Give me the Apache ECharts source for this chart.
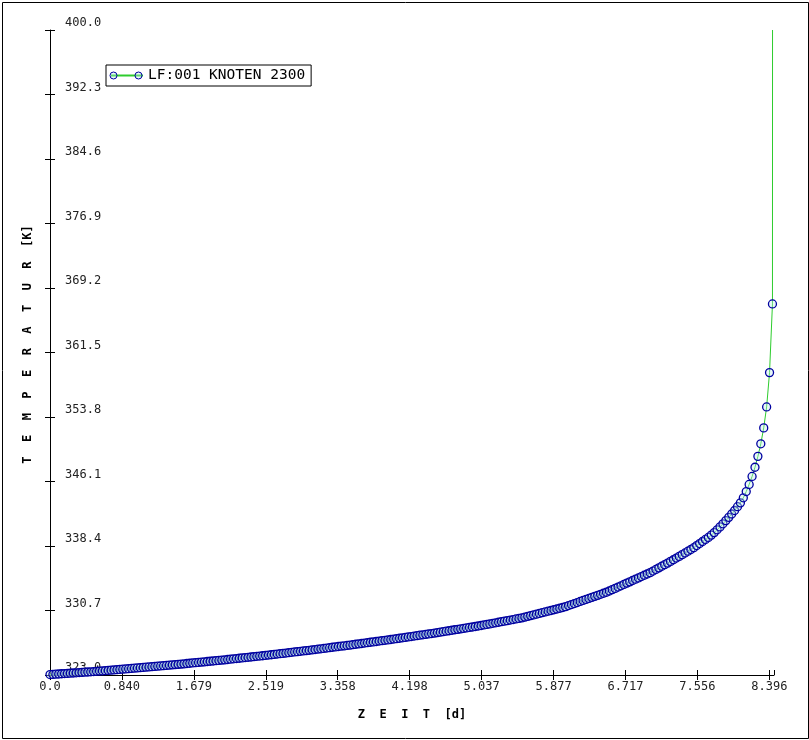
<!DOCTYPE html>
<html>
<head>
<meta charset="utf-8">
<script src="https://cdn.jsdelivr.net/npm/echarts@6/dist/echarts.min.js"></script>
<style>
html,body{margin:0;padding:0;background:#fff;}
#chart{width:809px;height:740px;}
</style>
</head>
<body>
<div id="chart"></div>
<script>
// ---- data ----
const seriesName = 'LF:001 KNOTEN 2300';
const timeDays = [
0, 0.034, 0.068, 0.102, 0.136, 0.170, 0.204, 0.238, 0.272, 0.306,
0.340, 0.374, 0.408, 0.442, 0.476, 0.510, 0.544, 0.578, 0.612, 0.646,
0.680, 0.714, 0.748, 0.782, 0.816, 0.850, 0.884, 0.918, 0.952, 0.986,
1.020, 1.054, 1.088, 1.122, 1.156, 1.190, 1.224, 1.258, 1.292, 1.326,
1.360, 1.394, 1.428, 1.462, 1.496, 1.530, 1.564, 1.598, 1.632, 1.666,
1.700, 1.734, 1.768, 1.802, 1.836, 1.870, 1.904, 1.938, 1.972, 2.006,
2.040, 2.074, 2.108, 2.142, 2.176, 2.210, 2.244, 2.278, 2.312, 2.346,
2.380, 2.414, 2.448, 2.482, 2.516, 2.550, 2.584, 2.618, 2.652, 2.686,
2.720, 2.754, 2.788, 2.822, 2.856, 2.890, 2.924, 2.958, 2.992, 3.026,
3.060, 3.094, 3.128, 3.162, 3.196, 3.230, 3.264, 3.298, 3.332, 3.366,
3.400, 3.434, 3.468, 3.502, 3.536, 3.570, 3.604, 3.638, 3.672, 3.706,
3.740, 3.774, 3.808, 3.842, 3.876, 3.910, 3.944, 3.978, 4.012, 4.046,
4.080, 4.114, 4.148, 4.182, 4.216, 4.250, 4.284, 4.318, 4.352, 4.386,
4.420, 4.454, 4.488, 4.522, 4.556, 4.590, 4.624, 4.658, 4.692, 4.726,
4.760, 4.794, 4.828, 4.862, 4.896, 4.930, 4.964, 4.998, 5.032, 5.066,
5.100, 5.134, 5.168, 5.202, 5.236, 5.270, 5.304, 5.338, 5.372, 5.406,
5.440, 5.474, 5.508, 5.542, 5.576, 5.610, 5.644, 5.678, 5.712, 5.746,
5.780, 5.814, 5.848, 5.882, 5.916, 5.950, 5.984, 6.018, 6.052, 6.086,
6.120, 6.154, 6.188, 6.222, 6.256, 6.290, 6.324, 6.358, 6.392, 6.426,
6.460, 6.494, 6.528, 6.562, 6.596, 6.630, 6.664, 6.698, 6.732, 6.766,
6.800, 6.834, 6.868, 6.902, 6.936, 6.970, 7.004, 7.038, 7.072, 7.106,
7.140, 7.174, 7.208, 7.242, 7.276, 7.310, 7.344, 7.378, 7.412, 7.446,
7.480, 7.514, 7.548, 7.582, 7.616, 7.650, 7.684, 7.718, 7.752, 7.786,
7.820, 7.854, 7.888, 7.922, 7.956, 7.990, 8.024, 8.058, 8.092, 8.126,
8.160, 8.194, 8.228, 8.262, 8.296, 8.330, 8.364, 8.398, 8.432, 8.433
];
const temperatureK = [
323.05, 323.07, 323.10, 323.12, 323.15, 323.17, 323.19, 323.22, 323.24, 323.26,
323.29, 323.31, 323.34, 323.36, 323.38, 323.41, 323.44, 323.47, 323.49, 323.52,
323.55, 323.58, 323.61, 323.64, 323.67, 323.69, 323.72, 323.75, 323.78, 323.81,
323.84, 323.87, 323.90, 323.93, 323.96, 323.99, 324.02, 324.05, 324.08, 324.11,
324.14, 324.17, 324.21, 324.24, 324.27, 324.30, 324.33, 324.37, 324.40, 324.44,
324.47, 324.50, 324.54, 324.57, 324.61, 324.64, 324.67, 324.71, 324.74, 324.78,
324.81, 324.85, 324.89, 324.93, 324.96, 325.00, 325.04, 325.08, 325.11, 325.15,
325.19, 325.23, 325.26, 325.30, 325.34, 325.38, 325.42, 325.46, 325.50, 325.54,
325.58, 325.62, 325.67, 325.71, 325.75, 325.79, 325.83, 325.87, 325.91, 325.95,
326.00, 326.04, 326.09, 326.13, 326.17, 326.22, 326.26, 326.31, 326.35, 326.40,
326.44, 326.48, 326.53, 326.57, 326.62, 326.67, 326.72, 326.76, 326.81, 326.86,
326.91, 326.95, 327.00, 327.05, 327.10, 327.14, 327.19, 327.24, 327.29, 327.34,
327.39, 327.44, 327.49, 327.54, 327.59, 327.65, 327.70, 327.75, 327.80, 327.85,
327.90, 327.95, 328.00, 328.06, 328.11, 328.17, 328.23, 328.28, 328.34, 328.40,
328.45, 328.51, 328.56, 328.62, 328.68, 328.73, 328.79, 328.85, 328.91, 328.98,
329.04, 329.10, 329.17, 329.23, 329.30, 329.36, 329.43, 329.49, 329.56, 329.62,
329.69, 329.75, 329.82, 329.91, 330.00, 330.09, 330.17, 330.26, 330.35, 330.44,
330.53, 330.62, 330.70, 330.79, 330.88, 330.97, 331.06, 331.16, 331.29, 331.41,
331.53, 331.65, 331.78, 331.90, 332.02, 332.14, 332.27, 332.39, 332.51, 332.63,
332.76, 332.88, 333.03, 333.19, 333.34, 333.50, 333.65, 333.81, 333.97, 334.12,
334.28, 334.44, 334.59, 334.75, 334.91, 335.06, 335.22, 335.41, 335.60, 335.79,
335.98, 336.17, 336.36, 336.56, 336.76, 336.96, 337.16, 337.37, 337.57, 337.78,
337.98, 338.20, 338.45, 338.69, 338.94, 339.18, 339.42, 339.70, 340.00, 340.33,
340.68, 341.05, 341.43, 341.82, 342.22, 342.64, 343.09, 343.55, 344.15, 344.90,
345.75, 346.70, 347.80, 349.10, 350.60, 352.50, 355.00, 359.10, 367.30, 400.00
];
const xTickLabels = ['0.0','0.840','1.679','2.519','3.358','4.198','5.037','5.877','6.717','7.556','8.396'];
const yTickLabels = ['323.0','330.7','338.4','346.1','353.8','361.5','369.2','376.9','384.6','392.3','400.0'];
const xMin = 0, xMax = 8.45, xStep = 0.83957;
const yMin = 323, yMax = 400, yStep = 7.7;

// ---- chart ----
const FONT = '"DejaVu Sans Mono", "Liberation Mono", monospace';
const lastIdx = timeDays.length - 1;
const seriesData = timeDays.map((t, i) => i === lastIdx
  ? { value: [t, temperatureK[i]], symbol: 'none' }
  : [t, temperatureK[i]]);

const chart = echarts.init(document.getElementById('chart'), null, { renderer: 'canvas' });

const xBase = {
  type: 'value', min: xMin, max: xMax, interval: xStep, gridIndex: 0,
  splitLine: { show: false }
};
const yBase = {
  type: 'value', min: yMin, max: yMax, interval: yStep, gridIndex: 0,
  splitLine: { show: false }
};

chart.setOption({
  animation: false,
  backgroundColor: '#fff',
  textStyle: { fontFamily: FONT },
  grid: { left: 50, right: 35, top: 30, bottom: 65, containLabel: false },
  legend: {
    left: 106, top: 65,
    padding: [3, 6, 3, 4],
    borderColor: '#000', borderWidth: 1,
    itemWidth: 32, itemHeight: 10,
    itemStyle: { opacity: 0 },
    textStyle: { fontFamily: FONT, fontSize: 14.5, color: '#000', lineHeight: 15 },
    data: [seriesName]
  },
  xAxis: [
    Object.assign({}, xBase, {
      position: 'bottom',
      name: 'Z  E  I  T  [d]',
      nameLocation: 'middle', nameGap: 34,
      nameTextStyle: { fontFamily: FONT, fontSize: 12, fontWeight: 'bold', color: '#000' },
      axisLine: { show: true, onZero: false, lineStyle: { color: '#000', width: 1 } },
      axisTick: { show: true, inside: false, length: 5, lineStyle: { color: '#000' } },
      axisLabel: {
        show: true, margin: 6, fontFamily: FONT, fontSize: 12, color: '#222',
        showMaxLabel: false,
        formatter: (v, i) => (xTickLabels[i] !== undefined ? xTickLabels[i] : '')
      }
    }),
    Object.assign({}, xBase, {
      position: 'bottom', offset: 0,
      axisLine: { show: false, onZero: false },
      axisTick: { show: true, inside: true, length: 5, lineStyle: { color: '#000' } },
      axisLabel: { show: false }
    })
  ],
  yAxis: [
    Object.assign({}, yBase, {
      position: 'left',
      name: 'T  E  M  P  E  R  A  T  U  R  [K]',
      nameLocation: 'middle', nameGap: 16, nameRotate: 90,
      nameTextStyle: { fontFamily: FONT, fontSize: 12, fontWeight: 'bold', color: '#000', padding: [0, 0, 0, 16] },
      axisLine: { show: true, onZero: false, lineStyle: { color: '#000', width: 1 } },
      axisTick: { show: true, inside: false, length: 5, lineStyle: { color: '#000' } },
      axisLabel: {
        show: true, inside: true, margin: 15, fontFamily: FONT, fontSize: 12, color: '#222',
        verticalAlign: 'bottom', padding: [0, 0, 1, 0],
        formatter: (v, i) => (yTickLabels[i] !== undefined ? yTickLabels[i] : '')
      }
    }),
    Object.assign({}, yBase, {
      position: 'left', offset: 0,
      axisLine: { show: false, onZero: false },
      axisTick: { show: true, inside: true, length: 5, lineStyle: { color: '#000' } },
      axisLabel: { show: false }
    })
  ],
  series: [{
    name: seriesName,
    type: 'line',
    xAxisIndex: 0, yAxisIndex: 0,
    data: seriesData,
    symbol: 'circle',
    symbolSize: 8,
    showAllSymbol: true,
    lineStyle: { color: '#2ecc2e', width: 1 },
    itemStyle: { color: 'rgba(190,235,235,0.35)', borderColor: '#0000a0', borderWidth: 1.3 },
    emphasis: { disabled: true },
    z: 2
  }],
  graphic: [
    { type: 'rect', left: 0, top: 0, silent: true, z: 100,
      shape: { x: 0.5, y: 0.5, width: 806, height: 736 },
      style: { fill: 'none', stroke: '#000', lineWidth: 1 } },
    { type: 'circle', silent: true, z: 100, x: 113.5, y: 75.5,
      shape: { r: 3.5 }, style: { fill: 'rgba(190,235,235,0.35)', stroke: '#0000a0', lineWidth: 1 } },
    { type: 'circle', silent: true, z: 100, x: 138.5, y: 75.5,
      shape: { r: 3.5 }, style: { fill: 'rgba(190,235,235,0.35)', stroke: '#0000a0', lineWidth: 1 } }
  ]
});
</script>
</body>
</html>
